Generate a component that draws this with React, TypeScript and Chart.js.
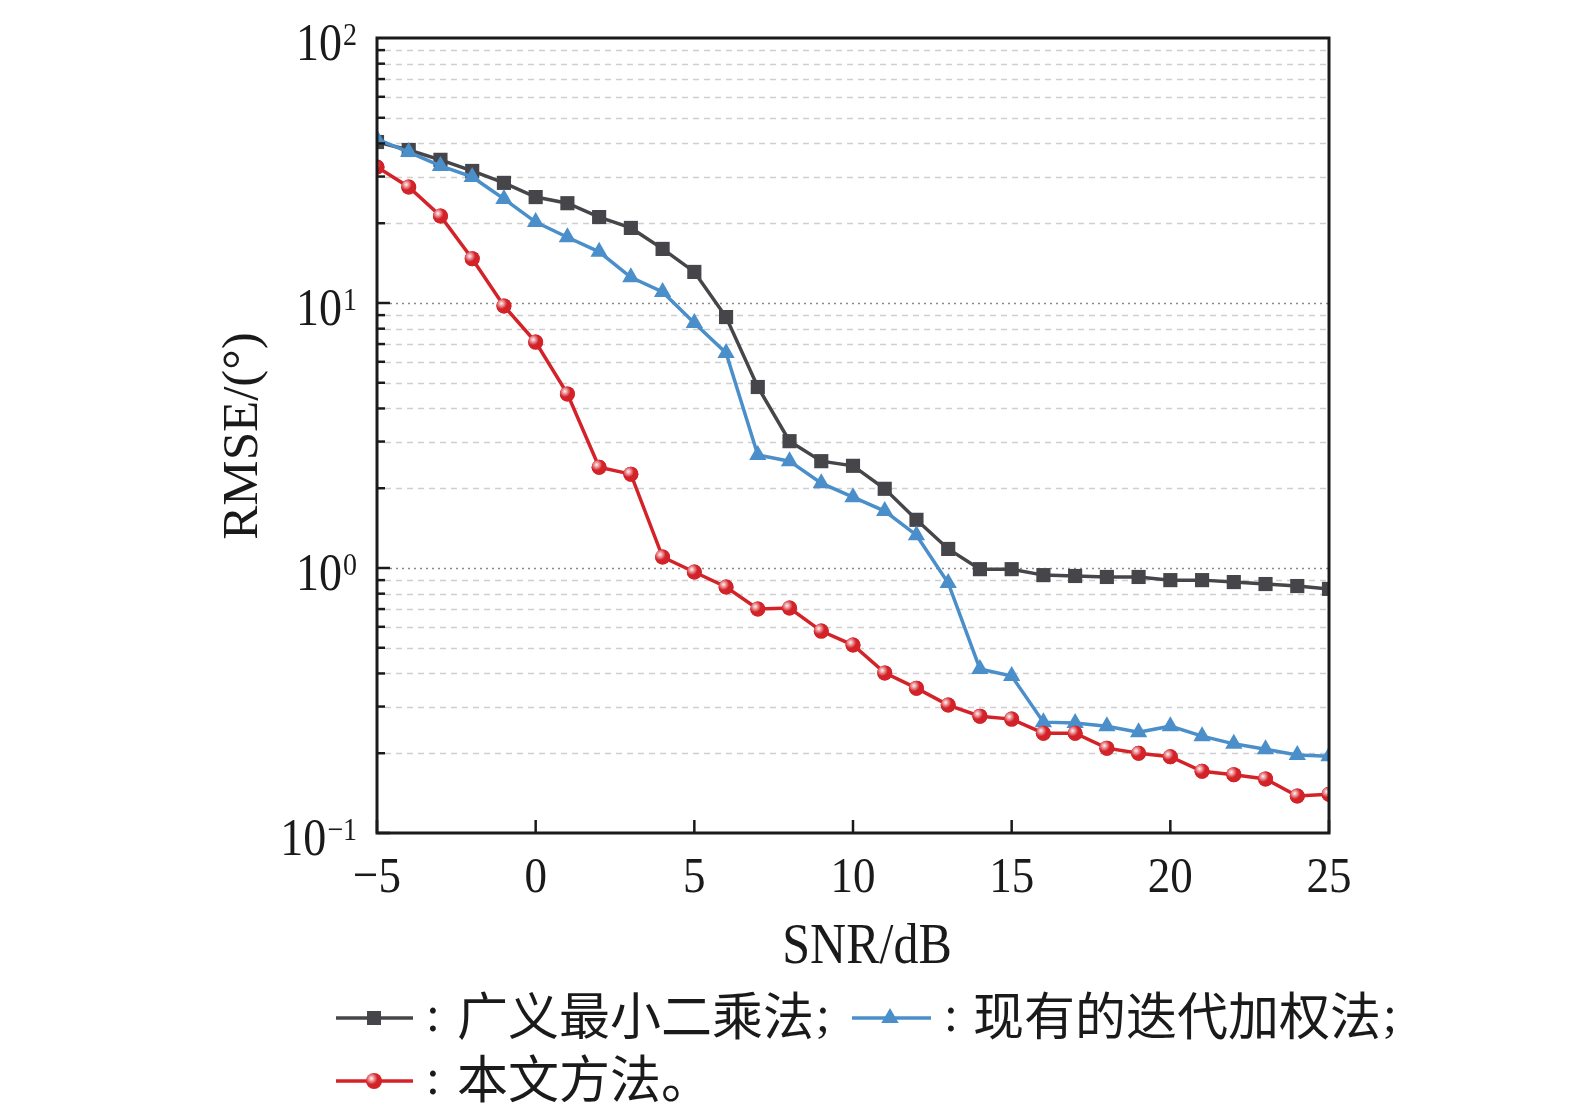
import { useEffect, useRef } from 'react';
import { Chart, registerables } from 'chart.js';

Chart.register(...registerables);

// SNR (dB) on the x axis
const snr = [-5, -4, -3, -2, -1, 0, 1, 2, 3, 4, 5, 6, 7, 8, 9, 10, 11, 12, 13, 14, 15, 16, 17, 18, 19, 20, 21, 22, 23, 24, 25];

// RMSE (deg)
const glsRmse = [40.5, 37.8, 34.7, 31.5, 28.4, 25.1, 23.8, 21.1, 19.2, 16.0, 13.1, 8.85, 4.82, 3.01, 2.53, 2.43, 1.99, 1.52, 1.18, 0.99, 0.99, 0.94, 0.933, 0.925, 0.925, 0.90, 0.90, 0.885, 0.87, 0.855, 0.834];
const iterRmse = [41.5, 37.1, 32.9, 29.9, 24.7, 20.2, 17.7, 15.6, 12.5, 11.0, 8.41, 6.48, 2.67, 2.53, 2.09, 1.85, 1.64, 1.33, 0.878, 0.416, 0.391, 0.262, 0.260, 0.253, 0.240, 0.253, 0.232, 0.217, 0.207, 0.197, 0.195];
const oursRmse = [32.6, 27.4, 21.3, 14.7, 9.75, 7.12, 4.54, 2.40, 2.26, 1.10, 0.966, 0.848, 0.70, 0.706, 0.578, 0.512, 0.402, 0.352, 0.304, 0.276, 0.269, 0.238, 0.238, 0.209, 0.200, 0.194, 0.171, 0.166, 0.160, 0.138, 0.140];

const xTicks = [-5, 0, 5, 10, 15, 20, 25];
const yDecades = [-1, 0, 1, 2];
const seriesNames = ['广义最小二乘法', '现有的迭代加权法', '本文方法'];

const BLACK = '#46464a';
const BLUE = '#4b8fca';
const RED = '#d42229';
const INK = '#1a1a1a';
const SERIF = '"Liberation Serif", "Times New Roman", serif';
const CJK = '"Noto Sans CJK SC", sans-serif';

function toPoints(values: number[]) {
    return values.map((v, i) => ({ x: snr[i], y: v }));
}

// latin text in the figure is a little taller than it is wide
function tallText(ctx: CanvasRenderingContext2D, txt: string, x: number, y: number, size: number, align: CanvasTextAlign, sy = 1.14) {
    ctx.save();
    ctx.font = `${size}px ${SERIF}`;
    ctx.textAlign = align;
    ctx.textBaseline = 'alphabetic';
    ctx.translate(x, y);
    ctx.scale(1, sy);
    ctx.fillText(txt, 0, 0);
    ctx.restore();
}

function drawSphere(ctx: CanvasRenderingContext2D, x: number, y: number, r: number) {
    ctx.beginPath();
    ctx.arc(x, y, r, 0, Math.PI * 2);
    ctx.fillStyle = RED;
    ctx.fill();
    const g = ctx.createRadialGradient(x - 2.5, y - 2.5, 0, x - 2.5, y - 2.5, r * 0.75);
    g.addColorStop(0, 'rgba(255,255,255,0.95)');
    g.addColorStop(1, 'rgba(255,255,255,0)');
    ctx.beginPath();
    ctx.arc(x, y, r, 0, Math.PI * 2);
    ctx.fillStyle = g;
    ctx.fill();
}

const paperAxes = {
    id: 'paperAxes',
    beforeDatasetsDraw(chart: Chart) {
        const { ctx, chartArea: a } = chart;
        const y = chart.scales.y;
        ctx.save();
        // minor grid, dashed
        ctx.strokeStyle = '#cfcfcf';
        ctx.lineWidth = 1.4;
        ctx.setLineDash([6, 5]);
        for (const e of [-1, 0, 1]) {
            for (let k = 2; k <= 9; k++) {
                const py = Math.round(y.getPixelForValue(k * Math.pow(10, e))) + 0.5;
                ctx.beginPath();
                ctx.moveTo(a.left + 8, py);
                ctx.lineTo(a.right, py);
                ctx.stroke();
            }
        }
        // decade grid, dotted
        ctx.strokeStyle = '#8a8a8a';
        ctx.setLineDash([2, 4]);
        for (const e of [0, 1]) {
            const py = Math.round(y.getPixelForValue(Math.pow(10, e))) + 0.5;
            ctx.beginPath();
            ctx.moveTo(a.left + 13, py);
            ctx.lineTo(a.right, py);
            ctx.stroke();
        }
        ctx.restore();
    },
    afterDatasetsDraw(chart: Chart) {
        const { ctx, chartArea: a } = chart;
        const x = chart.scales.x;
        const y = chart.scales.y;
        ctx.save();
        // shine on the red markers
        ctx.beginPath();
        ctx.rect(a.left, a.top, a.right - a.left, a.bottom - a.top);
        ctx.clip();
        for (const el of chart.getDatasetMeta(2).data as any[]) {
            drawSphere(ctx, el.x, el.y, 7.5);
        }
        ctx.restore();

        ctx.save();
        ctx.strokeStyle = INK;
        ctx.lineWidth = 3;
        ctx.strokeRect(a.left, a.top, a.right - a.left, a.bottom - a.top);
        ctx.lineWidth = 2.5;
        // y ticks, inward
        for (const e of [-1, 0, 1]) {
            for (let k = 1; k <= 9; k++) {
                const py = y.getPixelForValue(k * Math.pow(10, e));
                const len = k === 1 ? 13 : 8;
                ctx.beginPath();
                ctx.moveTo(a.left, py);
                ctx.lineTo(a.left + len, py);
                ctx.stroke();
            }
        }
        // x ticks, inward
        for (const t of xTicks) {
            const px = x.getPixelForValue(t);
            ctx.beginPath();
            ctx.moveTo(px, a.bottom);
            ctx.lineTo(px, a.bottom - 13);
            ctx.stroke();
        }
        ctx.restore();
    },
    afterDraw(chart: Chart) {
        const { ctx, chartArea: a } = chart;
        const x = chart.scales.x;
        const y = chart.scales.y;
        ctx.save();
        ctx.fillStyle = INK;

        for (const t of xTicks) {
            const label = t < 0 ? '\u2212' + Math.abs(t) : String(t);
            tallText(ctx, label, x.getPixelForValue(t), a.bottom + 59, 45, 'center');
        }

        for (const e of yDecades) {
            const py = y.getPixelForValue(Math.pow(10, e));
            const sup = e < 0 ? '\u2212' + Math.abs(e) : String(e);
            ctx.font = `28px ${SERIF}`;
            const supW = ctx.measureText(sup).width;
            const right = 357;
            tallText(ctx, sup, right - supW, py + 7, 28, 'left');
            tallText(ctx, '10', right - supW - 1, py + 22, 46, 'right');
        }

        tallText(ctx, 'SNR/dB', 867, 963, 50, 'center');

        ctx.save();
        ctx.translate(257, 436);
        ctx.rotate(-Math.PI / 2);
        ctx.font = `51px ${SERIF}`;
        ctx.textAlign = 'center';
        ctx.textBaseline = 'alphabetic';
        ctx.fillText('RMSE/(°)', 0, 0);
        ctx.restore();

        // legend
        const row1 = 1018;
        const row2 = 1081;
        const seg = (x0: number, x1: number, yy: number, color: string) => {
            ctx.strokeStyle = color;
            ctx.lineWidth = 3.5;
            ctx.beginPath();
            ctx.moveTo(x0, yy);
            ctx.lineTo(x1, yy);
            ctx.stroke();
        };
        const colon = (cx: number, yy: number) => {
            ctx.font = `50px ${SERIF}`;
            ctx.textAlign = 'center';
            ctx.textBaseline = 'alphabetic';
            ctx.fillStyle = INK;
            ctx.fillText(':', cx, yy + 13);
        };
        const cjk = (txt: string, x0: number, yy: number) => {
            ctx.font = `51px ${CJK}`;
            ctx.textAlign = 'left';
            ctx.textBaseline = 'middle';
            ctx.fillStyle = INK;
            ctx.fillText(txt, x0, yy - 2);
            return x0 + ctx.measureText(txt).width;
        };
        const semi = (x0: number, yy: number) => {
            ctx.font = `50px ${SERIF}`;
            ctx.textAlign = 'left';
            ctx.textBaseline = 'alphabetic';
            ctx.fillText(';', x0 + 2, yy + 13);
        };

        seg(336, 413, row1, BLACK);
        ctx.fillStyle = BLACK;
        ctx.fillRect(374 - 7, row1 - 7, 14, 14);
        colon(433, row1);
        semi(cjk(seriesNames[0], 457, row1), row1);

        seg(852, 931, row1, BLUE);
        ctx.fillStyle = BLUE;
        ctx.beginPath();
        ctx.moveTo(890, row1 - 10);
        ctx.lineTo(890 + 8.7, row1 + 5);
        ctx.lineTo(890 - 8.7, row1 + 5);
        ctx.closePath();
        ctx.fill();
        colon(951, row1);
        semi(cjk(seriesNames[1], 973, row1), row1);

        seg(336, 413, row2, RED);
        drawSphere(ctx, 374, row2, 8);
        colon(433, row2);
        cjk(seriesNames[2] + '。', 457, row2);

        ctx.restore();
    }
};

export default function App() {
    const canvasRef = useRef<HTMLCanvasElement>(null);
    const chartRef = useRef<Chart | null>(null);

    useEffect(() => {
        if (!canvasRef.current) return;
        if (chartRef.current) chartRef.current.destroy();

        chartRef.current = new Chart(canvasRef.current, {
            type: 'line',
            data: {
                datasets: [
                    {
                        label: seriesNames[0],
                        data: toPoints(glsRmse),
                        borderColor: BLACK,
                        backgroundColor: BLACK,
                        borderWidth: 3.5,
                        pointStyle: 'rect',
                        pointRadius: 10,
                        pointBackgroundColor: BLACK,
                        pointBorderColor: BLACK,
                        pointBorderWidth: 0,
                        tension: 0,
                        order: 2
                    },
                    {
                        label: seriesNames[1],
                        data: toPoints(iterRmse),
                        borderColor: BLUE,
                        backgroundColor: BLUE,
                        borderWidth: 3.5,
                        pointStyle: 'triangle',
                        pointRadius: 10,
                        pointBackgroundColor: BLUE,
                        pointBorderColor: BLUE,
                        pointBorderWidth: 0,
                        tension: 0,
                        order: 1
                    },
                    {
                        label: seriesNames[2],
                        data: toPoints(oursRmse),
                        borderColor: RED,
                        backgroundColor: RED,
                        borderWidth: 3.5,
                        pointStyle: 'circle',
                        pointRadius: 7.5,
                        pointBackgroundColor: RED,
                        pointBorderColor: RED,
                        pointBorderWidth: 0,
                        tension: 0,
                        order: 0
                    }
                ]
            },
            options: {
                responsive: true,
                maintainAspectRatio: false,
                animation: false,
                events: [],
                layout: {
                    padding: { left: 377, top: 38, right: 246, bottom: 279 }
                },
                plugins: {
                    legend: { display: false },
                    tooltip: { enabled: false }
                },
                scales: {
                    x: { type: 'linear', min: -5, max: 25, display: false },
                    y: { type: 'logarithmic', min: 0.1, max: 100, display: false }
                }
            },
            plugins: [paperAxes]
        });

        return () => {
            if (chartRef.current) {
                chartRef.current.destroy();
                chartRef.current = null;
            }
        };
    }, []);

    return (
        <div style={{ position: 'absolute', left: 0, top: 0, width: 1575, height: 1112, background: '#fff' }}>
            <canvas ref={canvasRef}></canvas>
        </div>
    );
}
